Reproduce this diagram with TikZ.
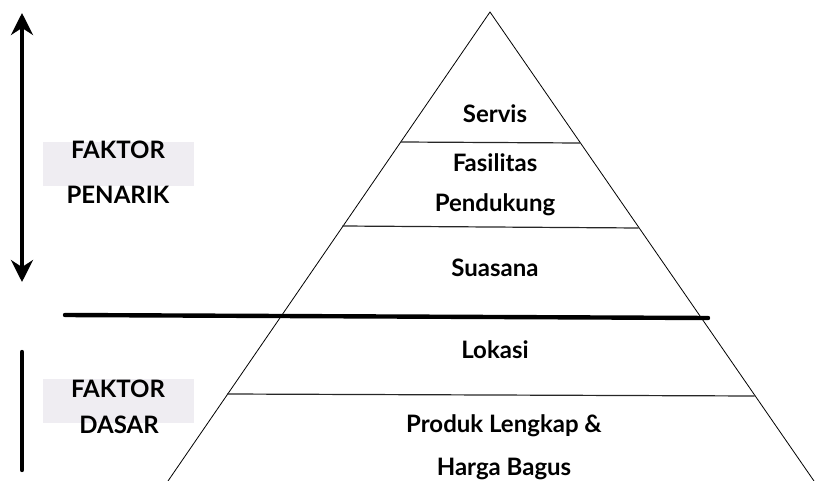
\documentclass[tikz,border=0pt]{standalone}
\usepackage{fontspec}
\setmainfont{Lato}
\usepackage{xcolor}
\usetikzlibrary{arrows.meta}

\definecolor{boxgrey}{HTML}{EFEDF2}
\tikzset{
    label/.style={font=\bfseries\fontsize{12}{14}\selectfont, inner sep=0pt, anchor=base},
    tier/.style={line width=0.6pt, black!85},
}

\begin{document}
\begin{tikzpicture}[x=0.5pt, y=-0.5pt]
    \useasboundingbox (0,0) rectangle (815,481);

    % pyramid
    \coordinate (top) at (490,12);
    \coordinate (bl) at (168,481);
    \coordinate (br) at (814,481);
    \draw[line width=0.4pt] (bl) -- (top) -- (br);
    \draw[tier] (400.7,142) -- (579.8,143);
    \draw[tier] (342.4,226) -- (638.5,228);
    \draw[tier] (227,394) -- (754.6,396);

    % split line
    \coordinate (splitL) at (65,315);
    \coordinate (splitR) at (708,318);
    \draw[line width=2.2pt, line cap=round] (splitL) -- (splitR);

    \node[label] (servis) at (495,123) {Servis};
    \node[label] (fasilitas) at (495,172) {Fasilitas};
    \node[label] (pendukung) at (495,212) {Pendukung};
    \node[label] (suasana) at (495,277) {Suasana};
    \node[label] (lokasi) at (495,358) {Lokasi};
    \node[label] (produk) at (504,432) {Produk Lengkap \&};
    \node[label] (harga) at (504,475) {Harga Bagus};

    % left side
    \fill[boxgrey] (43,142) rectangle (194,186);
    \fill[boxgrey] (43,379) rectangle (194,423);
    \node[label] (faktorA) at (118,159) {FAKTOR};
    \node[label] (penarik) at (118,204) {PENARIK};
    \node[label] (faktorB) at (118,397) {FAKTOR};
    \node[label] (dasar) at (119,433) {DASAR};

    \coordinate (arrTop) at (22,13);
    \coordinate (arrBot) at (22,282);
    \draw[line width=2.2pt, {Stealth[length=11pt,width=11pt]}-{Stealth[length=11pt,width=11pt]}] (arrTop) -- (arrBot);
    \coordinate (barTop) at (22,352);
    \coordinate (barBot) at (22,470);
    \draw[line width=2.2pt, line cap=round] (barTop) -- (barBot);
\end{tikzpicture}
\end{document}
